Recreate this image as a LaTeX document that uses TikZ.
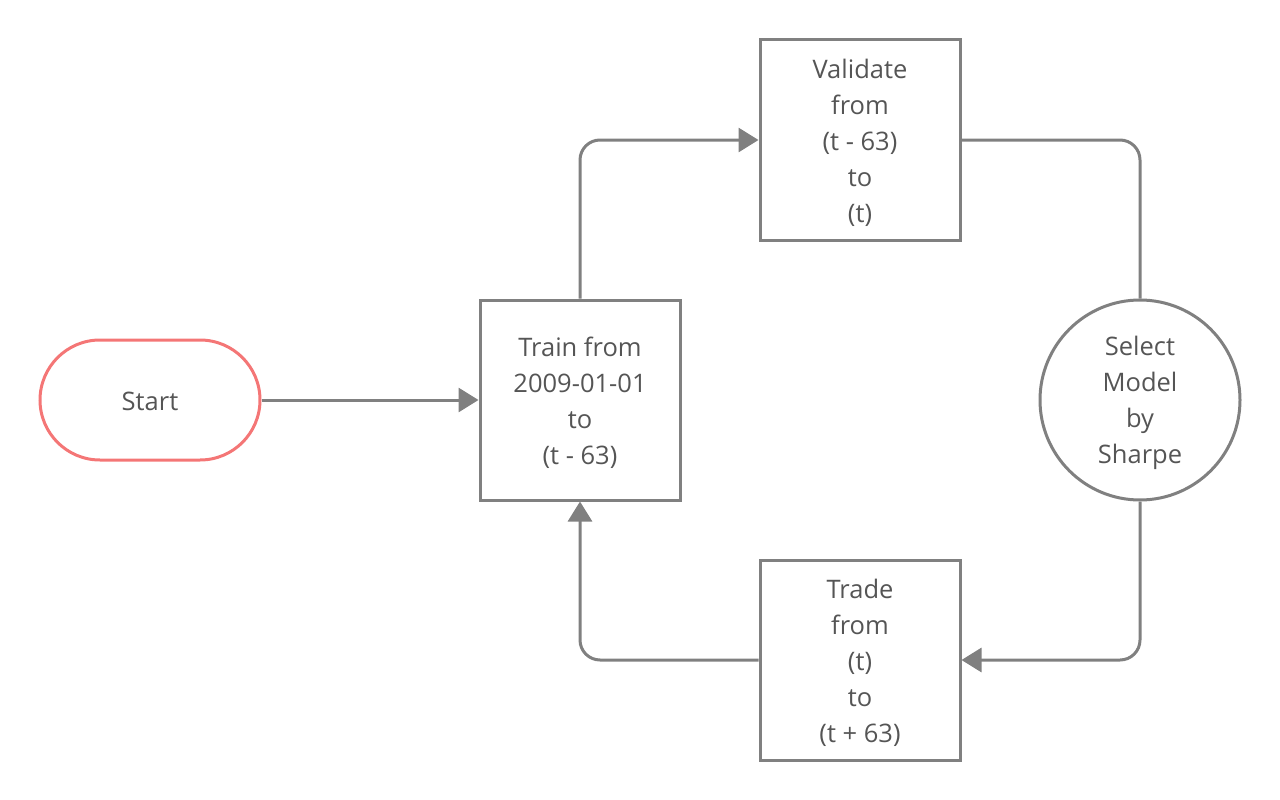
\documentclass[tikz,border=0pt]{standalone}
\usepackage{fontspec}
\setmainfont{Open Sans}
\usetikzlibrary{arrows.meta}
\definecolor{linegray}{HTML}{808080}
\definecolor{txtgray}{HTML}{555555}
\definecolor{startred}{HTML}{F47676}
\begin{document}
\begin{tikzpicture}[x=1pt,y=-1pt,
  every node/.style={font=\fontsize{25.5}{36}\selectfont, text=txtgray, align=center, line width=3pt},
  boxnode/.style={draw=linegray, minimum width=200pt, minimum height=200pt, inner sep=0pt},
  startnode/.style={draw=startred, rounded corners=60pt, minimum width=220pt, minimum height=120pt, inner sep=0pt},
  circnode/.style={draw=linegray, circle, minimum size=200pt, inner sep=0pt},
  conn/.style={draw=linegray, line width=3pt, rounded corners=20pt},
  arr/.style={-{Triangle[length=20pt,width=24pt]}},
  txt/.style={label={[yshift=-3pt, draw=none, inner sep=0pt]center:#1}},
  stxt/.style={label={[yshift=-1pt, draw=none, inner sep=0pt]center:#1}}
]
\useasboundingbox (0,0) rectangle (1280,800);
\node[startnode, stxt={Start}] (start) at (150,400) {};
\node[boxnode, txt={Train from\\2009-01-01\\to\\(t - 63)}] (train) at (580,400) {};
\node[boxnode, txt={Validate\\from\\(t - 63)\\to\\(t)}] (valid) at (860,140) {};
\node[boxnode, txt={Trade\\from\\(t)\\to\\(t + 63)}] (trade) at (860,660) {};
\node[circnode, txt={Select\\Model\\by\\Sharpe}] (sel) at (1140,400) {};
\draw[conn,arr] (start.east) -- (train.west);
\draw[conn,arr] (train.north) |- (valid.west);
\draw[conn] (valid.east) -| (sel.north);
\draw[conn,arr] (sel.south) |- (trade.east);
\draw[conn,arr] (trade.west) -| (train.south);
\end{tikzpicture}
\end{document}
